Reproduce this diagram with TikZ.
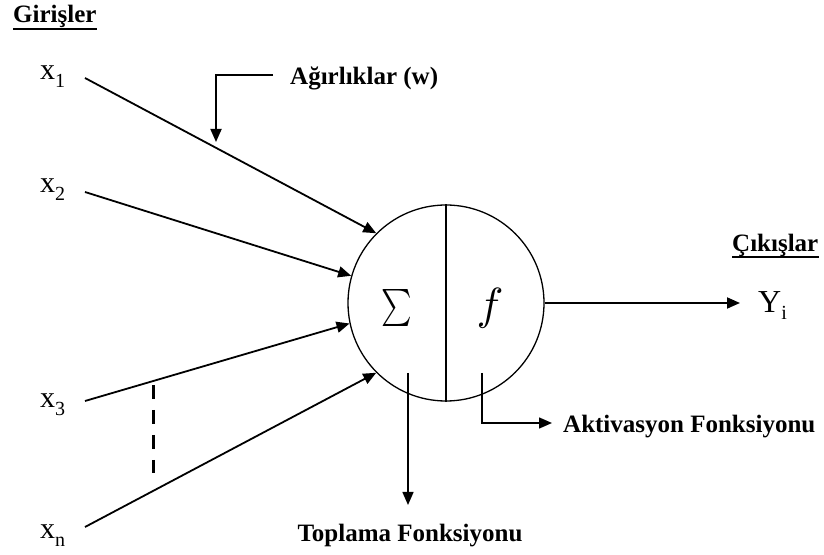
\documentclass[tikz,border=0pt]{standalone}
\usepackage{fontspec}
\setmainfont{Liberation Serif}
\usetikzlibrary{arrows.meta}
\begin{document}
\begin{tikzpicture}[x=1pt,y=1pt,
  lbl/.style={inner sep=0pt, font=\fontsize{25}{30}\selectfont\bfseries},
  var/.style={inner sep=0pt, font=\fontsize{30}{36}\selectfont},
  conn/.style={line width=1.8pt, -{Triangle[length=13pt,width=11pt]}},
  thinconn/.style={line width=1.5pt, -{Triangle[length=13pt,width=11pt]}},
  thinline/.style={line width=1.4pt}]
\useasboundingbox (0,0) rectangle (824,554);
% neuron
\node[circle, draw, line width=1.3pt, minimum size=196pt, inner sep=0pt] (c) at (446,251) {};
\draw[thinline] (c.north) -- (c.south);
\node[inner sep=0pt] (sig) at (397,246) {\scalebox{2.9}[3.7]{$\sum$}};
\node[inner sep=0pt] (fn) at (490,246) {\scalebox{4.5}{$f$}};
% titles
\node[lbl, anchor=base west] (gir) at (13,531) {Girişler};
\draw[line width=1.2pt] ([yshift=-6pt]gir.base west) -- ([yshift=-6pt]gir.base east);
\node[lbl, anchor=base west] (cik) at (732,302) {Çıkışlar};
\draw[line width=1.2pt] ([yshift=-5pt]cik.base west) -- ([yshift=-5pt]cik.base east);
% inputs
\node[var, anchor=base west] (x1) at (40,474) {x\raisebox{-8pt}{\fontsize{20}{20}\selectfont 1}};
\node[var, anchor=base west] (x2) at (40,361) {x\raisebox{-8pt}{\fontsize{20}{20}\selectfont 2}};
\node[var, anchor=base west] (x3) at (40,146) {x\raisebox{-8pt}{\fontsize{20}{20}\selectfont 3}};
\node[var, anchor=base west] (xn) at (40,16) {x\raisebox{-8pt}{\fontsize{20}{20}\selectfont n}};
\coordinate (s1) at (85,476);
\coordinate (s2) at (85,362);
\coordinate (s3) at (85,153);
\coordinate (sn) at (85,27);
\draw[conn] (s1) -- (c.135);
\draw[conn] (s2) -- (c.164);
\draw[conn] (s3) -- (c.192.5);
\draw[conn] (sn) -- (c.225);
\coordinate (d0) at (153,169);
\coordinate (d1) at (153,81);
\draw[line width=3pt, dash pattern=on 14pt off 11pt] (d0) -- (d1);
% weights
\node[lbl, anchor=base west] (w) at (290,469) {Ağırlıklar (w)};
\coordinate (wa) at (273,479);
\coordinate (wt) at (216,412);
\draw[conn] (wa) -| (wt);
% output
\coordinate (ot) at (740,251);
\draw[conn] (c.east) -- (ot);
\node[var, anchor=base west] (yi) at (758,241) {\fontsize{32}{36}\selectfont Y\raisebox{-7pt}{\fontsize{20}{20}\selectfont i}};
% summation function
\coordinate (t0) at (408,181);
\coordinate (t1) at (408,49);
\draw[thinconn] (t0) -- (t1);
\node[lbl, anchor=base] (top) at (410,13) {Toplama Fonksiyonu};
% activation function
\coordinate (a0) at (482,181);
\coordinate (a1) at (552,131);
\draw[thinconn] (a0) |- (a1);
\node[lbl, anchor=base west] (akt) at (563,121) {Aktivasyon Fonksiyonu};
\end{tikzpicture}
\end{document}
